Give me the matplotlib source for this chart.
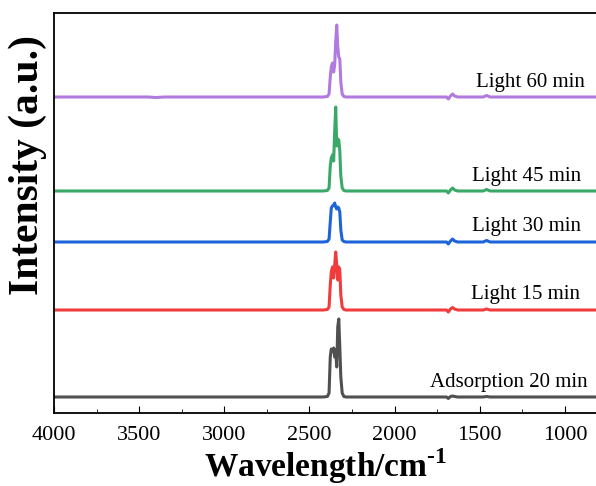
import matplotlib
matplotlib.use('Agg')
import matplotlib.pyplot as plt
from matplotlib.ticker import MultipleLocator, NullLocator

plt.rcParams['font.family'] = ['Liberation Serif', 'DejaVu Serif']
plt.rcParams['mathtext.fontset'] = 'custom'
plt.rcParams['mathtext.rm'] = 'Liberation Serif:bold'
plt.rcParams['mathtext.bf'] = 'Liberation Serif:bold'

# wavenumber grid (cm-1) shared by all spectra
wn = [4000, 3700, 3450, 3400, 3350, 3000, 2600, 2420, 2395, 2385, 2378, 2372,
      2365, 2358, 2352, 2346, 2340, 2334, 2328, 2322, 2316, 2308, 2298, 2285,
      2250, 2000, 1800, 1720, 1695, 1685, 1672, 1660, 1648, 1630, 1560, 1480,
      1460, 1440, 1300, 1000, 806]

# intensity above each baseline (a.u.)
ads20 = [0, 0, 0, 0, 0, 0, 0, 0, 0.5, 4, 40, 48,
         46, 49, 40, 47, 30, 70, 78, 50, 20, 4, 0.5, 0,
         0, 0, 0, 0, 0, -1.5, 0.5, 1, 0.5, 0, 0, 0,
         0.5, 0, 0, 0, 0]
light15 = [0, 0, 0, 0, 0, 0, 0, 0, 0.5, 3, 25, 38,
           43, 32, 45, 58, 45, 30, 43, 40, 15, 3, 0.5, 0,
           0, 0, 0, 0, 0, -2, 1, 2.5, 1, 0, 0, 0,
           1, 0, 0, 0, 0]
light30 = [0, 0, 0, 0, 0, 0, 0, 0, 0.5, 3, 20, 34,
           36, 37, 39, 35, 33, 35, 34, 30, 12, 2, 0.5, 0,
           0, 0, 0, 0, 0, -2, 1, 3, 1, 0, 0, 0,
           1.5, 0, 0, 0, 0]
light45 = [0, 0, 0, 0, 0, 0, 0, 0, 0.5, 3, 25, 33,
           36, 30, 60, 84, 45, 52, 51, 40, 15, 3, 0.5, 0,
           0, 0, 0, 0, 0, -2, 1, 3, 1, 0, 0, 0,
           1.5, 0, 0, 0, 0]
light60 = [0, 0, 0, -0.5, 0, 0, 0, 0, 0.5, 3, 20, 30,
           34, 25, 32, 55, 72, 50, 40, 38, 15, 3, 0.5, 0,
           0, 0, 0, 0, 0, -2, 1, 3, 1, 0, 0, 0,
           1.5, 0, 0, 0, 0]

series = [ads20, light15, light30, light45, light60]
offsets = [16, 103, 171, 222, 316]
names = ['Adsorption 20 min', 'Light 15 min', 'Light 30 min', 'Light 45 min', 'Light 60 min']
colors = ['#505050', '#f03c3c', '#1c64d8', '#3aa868', '#b07ade']
label_x = [865, 912, 906, 906, 883]
label_y = [30, 119, 187, 236, 330]

fig = plt.figure(figsize=(5.96, 4.86), dpi=100)
ax = fig.add_axes([54 / 596, 73 / 486, 544 / 596, 400 / 486])

for s, off, c in zip(series, offsets, colors):
    ax.plot(wn, [v + off for v in s], color=c, lw=2.2)

for n, x, y in zip(names, label_x, label_y):
    ax.text(x, y, n, ha='right', va='center', fontsize=15)

ax.set_xlim(4000, 806)
ax.set_ylim(0, 400)
ax.xaxis.set_major_locator(MultipleLocator(500))
ax.xaxis.set_minor_locator(MultipleLocator(250))
ax.yaxis.set_major_locator(NullLocator())
ax.tick_params(axis='x', which='both', direction='in', top=False, labelsize=16, pad=9)
ax.tick_params(axis='x', which='major', length=5)
ax.tick_params(axis='x', which='minor', length=3)
ax.spines['right'].set_visible(False)
for sp in ax.spines.values():
    sp.set_linewidth(1.3)

ax.set_xlabel('Wavelength/cm$^{\\text{-}1}$', fontsize=24, fontweight='bold', labelpad=1)
ax.set_ylabel('Intensity (a.u.)', fontsize=30, fontweight='bold')
ax.yaxis.set_label_coords(-0.012, 0.62)

fig.savefig('out.png', dpi=100)
